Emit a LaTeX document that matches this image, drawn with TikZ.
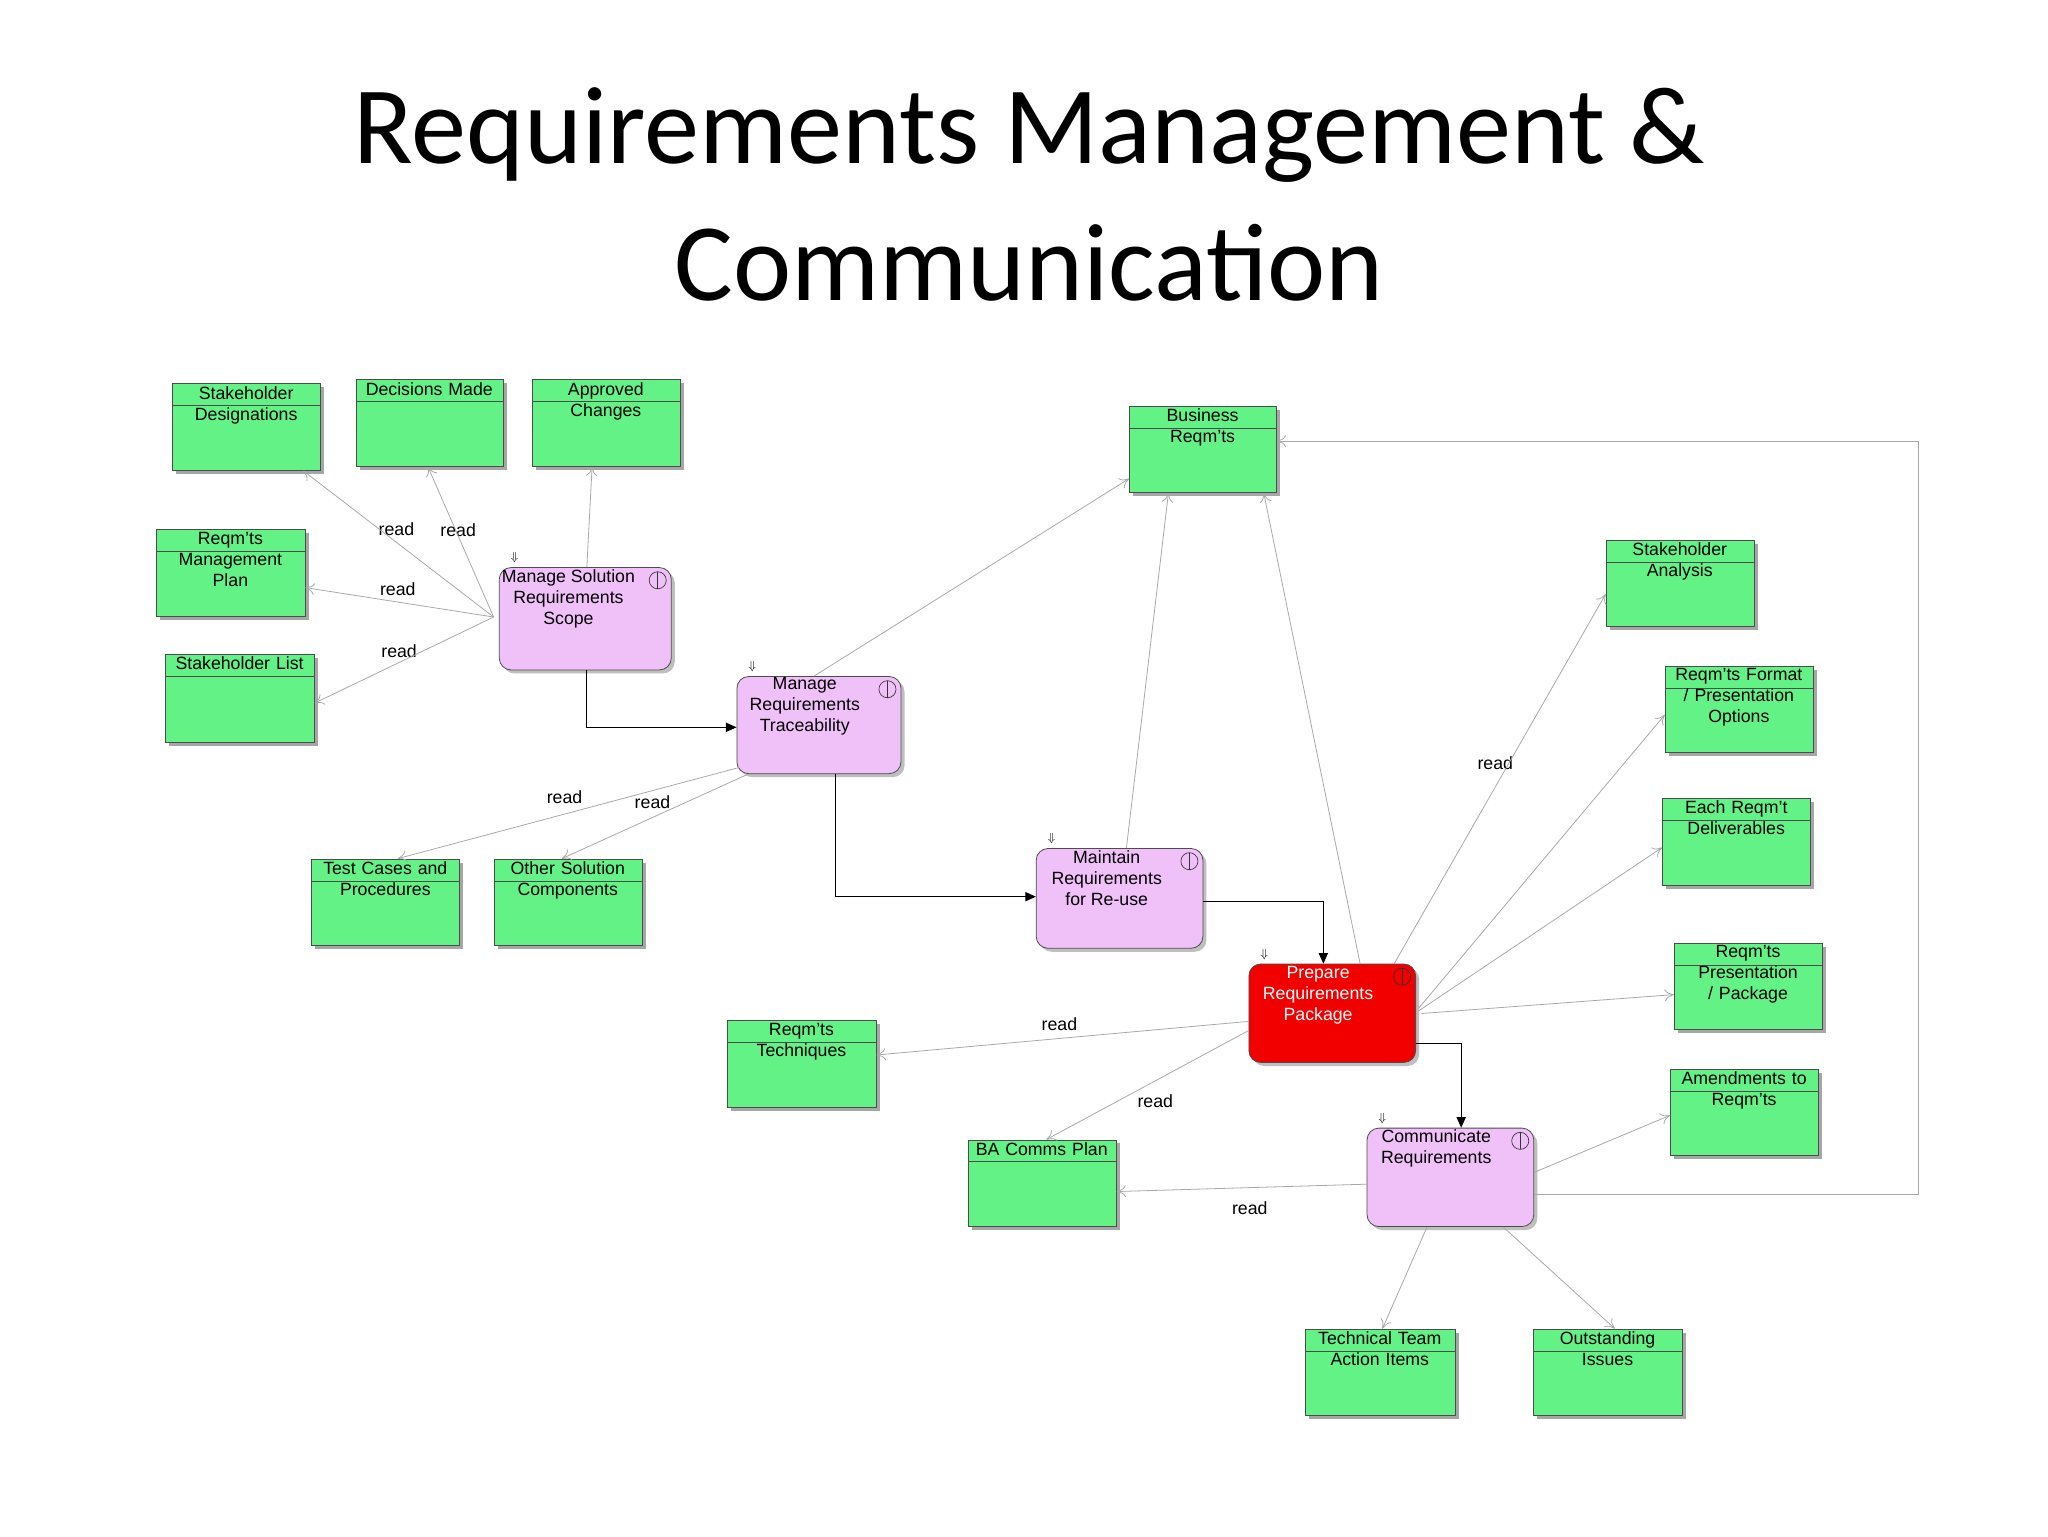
\documentclass[tikz,border=0pt]{standalone}
\usepackage{fontspec}
\setmainfont{Liberation Sans}
\newfontfamily\titlefont{Carlito}
\usetikzlibrary{arrows.meta,calc}
\definecolor{gfill}{HTML}{62F285}
\definecolor{pfill}{HTML}{F0C0F8}
\definecolor{rfill}{HTML}{F20000}
\definecolor{lgray}{HTML}{A8A8A8}
\tikzset{x=1pt,y=-1pt,
 gbox/.style={draw=black!70,fill=gfill,line width=0.6pt,anchor=north west,inner sep=0,
   drop shadow/.style={}},
 shadow/.style={fill=black!30,draw=none},
 proc/.style={draw=black!70,fill=pfill,line width=0.6pt,rounded corners=9pt,anchor=north west,inner sep=0},
 txt/.style={font=\fontsize{13.5}{16}\selectfont,align=center,anchor=north,inner sep=0},
 rd/.style={font=\fontsize{13.5}{16}\selectfont,inner sep=0},
 ga/.style={draw=lgray,line width=0.6pt,-{To[length=7pt,width=9pt]}},
 ba/.style={draw=black,line width=0.7pt,-{Triangle[length=8pt,width=7pt]}}}
\newcommand\gb[6]{%
 \fill[black!35] (#2+3,#3+3) rectangle ++(#4,#5);
 \node[gbox,minimum width=#4pt,minimum height=#5pt] (#1) at (#2,#3) {};
 \draw[black!70,line width=0.6pt] (#2,#3+17) -- ++(#4,0);
 \node[txt,text width=#4pt] at (#2+#4/2,#3+2) {#6};}
\newcommand\pr[7]{%
 \fill[black!25,rounded corners=9pt] (#2+3,#3+3) rectangle ++(#4,#5);
 \node[proc,fill=#7,minimum width=#4pt,minimum height=#5pt] (#1) at (#2,#3) {};
 \node[txt,text width=#4pt,text=#6] at (#2+#4/2-8,#3+8) {#6\relax};}
\newcommand\icon[2]{%
 \draw[black!80,line width=0.5pt] (#1-10,#2+10) circle (6.5);
 \draw[black!80,line width=0.5pt] (#1-10,#2+3.5) -- (#1-10,#2+16.5);
 \node[font=\fontsize{9}{9}\selectfont,inner sep=0] at ({#1-#1+0},0) {};}
\newcommand\dn[2]{\node[font=\fontsize{9}{9}\selectfont,inner sep=0] at (#1+12,#2-7) {$\Downarrow$};}
\begin{document}
\begin{tikzpicture}
\useasboundingbox[fill=white] (0,0) rectangle (1560,1170);
\node[font=\titlefont\fontsize{84}{104}\selectfont,align=center,inner sep=0] (title) at (784,148) {Requirements Management \&\\Communication};
% green boxes
\gb{sd}{131}{292}{113}{66}{Stakeholder\\Designations}
\gb{dm}{271}{289}{112}{66}{Decisions Made}
\gb{ac}{405}{289}{113}{66}{Approved\\Changes}
\gb{rmp}{119}{403}{113}{66}{Reqm'ts\\Management\\Plan}
\gb{sl}{126}{498}{113}{67}{Stakeholder List}
\gb{br}{860}{309}{112}{66}{Business\\Reqm'ts}
\gb{sa}{1223}{411}{113}{66}{Stakeholder\\Analysis}
\gb{rfp}{1268}{507}{113}{66}{Reqm'ts Format\\/ Presentation\\Options}
\gb{erd}{1266}{608}{113}{66}{Each Reqm't\\Deliverables}
\gb{rpp}{1275}{718}{113}{66}{Reqm'ts\\Presentation\\/ Package}
\gb{am}{1272}{814}{113}{66}{Amendments to\\Reqm'ts}
\gb{tc}{237}{654}{113}{66}{Test Cases and\\Procedures}
\gb{osc}{376}{654}{113}{66}{Other Solution\\Components}
\gb{rt}{554}{777}{113}{66}{Reqm'ts\\Techniques}
\gb{ba}{737}{868}{113}{66}{BA Comms Plan}
\gb{tt}{994}{1012}{114}{66}{Technical Team\\Action Items}
\gb{oi}{1168}{1012}{113}{66}{Outstanding\\Issues}
% processes
\fill[black!25,rounded corners=9pt] (383,435) rectangle ++(131,78);
\node[proc,minimum width=131pt,minimum height=78pt] (mss) at (380,432) {};
\node[txt] at (433,434) {Manage Solution\\Requirements\\Scope};
\icon{511}{432}\dn{380}{432}
\fill[black!25,rounded corners=9pt] (564,518) rectangle ++(125,74);
\node[proc,minimum width=125pt,minimum height=74pt] (mrt) at (561,515) {};
\node[txt] at (613,516) {Manage\\Requirements\\Traceability};
\icon{686}{515}\dn{561}{515}
\fill[black!25,rounded corners=9pt] (792,649) rectangle ++(127,76);
\node[proc,minimum width=127pt,minimum height=76pt] (mrr) at (789,646) {};
\node[txt] at (843,648) {Maintain\\Requirements\\for Re-use};
\icon{916}{646}\dn{789}{646}
\fill[black!25,rounded corners=9pt] (954,737) rectangle ++(127,75);
\node[proc,fill=rfill,minimum width=127pt,minimum height=75pt] (prp) at (951,734) {};
\node[txt,text=white] at (1004,736) {Prepare\\Requirements\\Package};
\icon{1078}{734}\dn{951}{734}
\fill[black!25,rounded corners=9pt] (1044,862) rectangle ++(127,75);
\node[proc,minimum width=127pt,minimum height=75pt] (cr) at (1041,859) {};
\node[txt] at (1094,860) {Communicate\\Requirements};
\icon{1168}{859}\dn{1041}{859}
% read labels
\node[rd] (l1) at (302,403) {read};
\node[rd] (l2) at (349,404) {read};
\node[rd] (l3) at (303,449) {read};
\node[rd] (l4) at (304,496) {read};
\node[rd] (l5) at (430,607) {read};
\node[rd] (l6) at (497,611) {read};
\node[rd] (l7) at (1139,581) {read};
\node[rd] (l8) at (807,780) {read};
\node[rd] (l9) at (880,839) {read};
\node[rd] (l10) at (952,920) {read};
% gray connectors
\coordinate (m0) at (376,470);
\draw[ga] (m0) -- ($(sd.south west)+(100,0)$);
\draw[ga] (m0) -- ($(dm.south west)+(55,0)$);
\draw[ga] (m0) -- ($(rmp.south east)+(0,-22)$);
\draw[ga] (m0) -- ($(sl.south east)+(0,-30)$);
\draw[ga] ($(mss.north west)+(67,0)$) -- ($(ac.south west)+(46,0)$);
\draw[ga] ($(mrt.north west)+(59,0)$) -- ($(br.south west)+(0,-11)$);
\draw[ga] ($(mrt.south west)+(2,-5)$) -- ($(tc.north west)+(66,0)$);
\draw[ga] ($(mrt.south west)+(9,0)$) -- ($(osc.north west)+(52,0)$);
\draw[ga] ($(mrr.north west)+(69,0)$) -- ($(br.south west)+(30,0)$);
\draw[ga] ($(prp.north west)+(85,0)$) -- ($(br.south east)+(-10,0)$);
\draw[ga] ($(prp.north west)+(111,0)$) -- ($(sa.south west)+(0,-25)$);
\draw[ga] ($(prp.north east)+(2,34)$) -- ($(rfp.south west)+(0,-29)$);
\draw[ga] ($(prp.north east)+(2,36)$) -- ($(erd.south west)+(0,-29)$);
\draw[ga] ($(prp.north east)+(4,38)$) -- ($(rpp.south west)+(0,-27)$);
\draw[ga] ($(prp.north west)+(0,44)$) -- ($(rt.south east)+(0,-40)$);
\draw[ga] ($(prp.north west)+(0,51)$) -- ($(ba.north west)+(60,0)$);
\draw[ga] ($(cr.north east)+(0,34)$) -- ($(am.south west)+(0,-31)$);
\draw[ga] ($(cr.north west)+(0,43)$) -- ($(ba.south east)+(0,-27)$);
\draw[ga] ($(cr.south west)+(46,0)$) -- ($(tt.north west)+(59,0)$);
\draw[ga] ($(cr.south west)+(104,0)$) -- ($(oi.north west)+(62,0)$);
\draw[ga] ($(cr.north east)+(0,51)$) -- (1461,910) -- (1461,336) -- ($(br.north east)+(0,27)$);
% black connectors
\draw[ba] ($(mss.south west)+(67,0)$) |- ($(mrt.north west)+(0,39)$);
\draw[ba] ($(mrt.south west)+(75,0)$) |- ($(mrr.north west)+(0,37)$);
\draw[ba] ($(mrr.north east)+(0,41)$) -| ($(prp.north west)+(57,0)$);
\draw[ba] ($(prp.north east)+(0,61)$) -| ($(cr.north west)+(72,0)$);
\end{tikzpicture}
\end{document}
